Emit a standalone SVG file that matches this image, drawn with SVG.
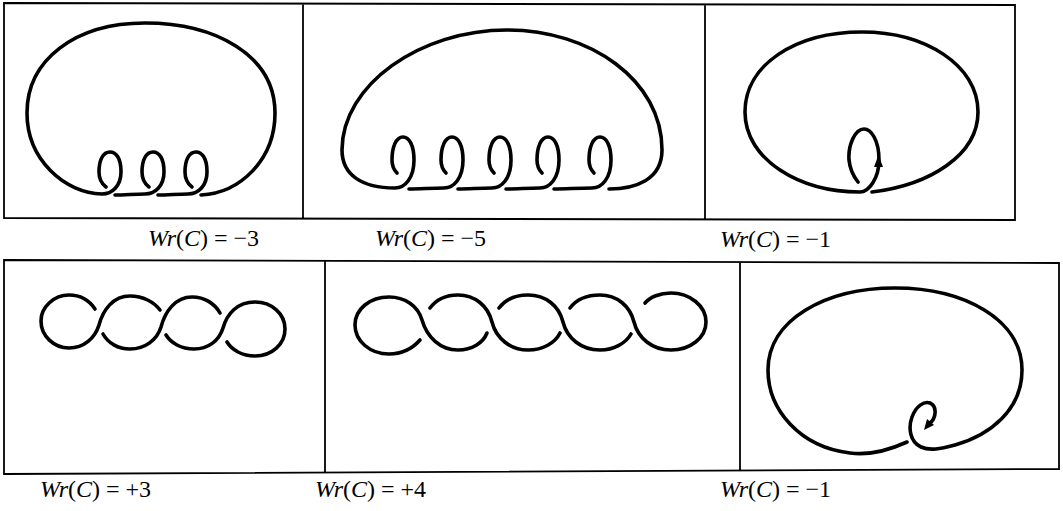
<svg xmlns="http://www.w3.org/2000/svg" width="1063" height="511" viewBox="0 0 1063 511">
<style>
.frame{fill:none;stroke:#000;stroke-width:1.8}
.curve{fill:none;stroke:#000;stroke-width:3.6;stroke-linecap:round;stroke-linejoin:round}
.lbl{font-family:"Liberation Serif","Times New Roman",serif;font-size:24px;fill:#000}
.it{font-style:italic}
</style>
<rect width="1063" height="511" fill="#fff"/>
<g id="frames">
<path class="frame" d="M4,3 L1015,5 L1015,220 L4,218 Z M303,3.6 L303,218.6 M705,4.4 L705,219.4"/>
<path class="frame" d="M4,260 L1059,263 L1059,469 L4,474 Z M325,260.6 L325,473 M740,261.8 L740,471"/>
</g>
<g id="panel-wr-minus3">
<path class="curve" d="M201,195 C240,193 275,160 275,113 C275,55 215,23 145,23 C75,23 27,60 27,113 C27,160 65,193 102,194 C112,194 121,186 121,172 C121,158 116,152 110,152 C103,152 99,160 99,172 C99,179 102,184 106,187"/>
<path class="curve" d="M115,195 C125,195 135,194 145,194 C155,194 164,186 164,172 C164,158 159,152 153,152 C146,152 142,160 142,172 C142,179 145,184 149,187"/>
<path class="curve" d="M158,195 C168,195 178,194 188,194 C198,194 207,186 207,172 C207,158 202,152 196,152 C189,152 185,160 185,172 C185,179 188,184 192,187"/>
</g>
<g id="panel-wr-minus5">
<path class="curve" d="M609,189 C635,189 662,180 662,150 C662,80 590,30 507,30 C420,30 342,85 342,150 C342,175 362,188 395,188 C405,188 414,178 414,160 C414,145 409,137 403,137 C396,137 392,147 392,160 C392,166 394,170 397,173"/>
<path class="curve" d="M409,189 C420,189 432,188 444,188 C454,188 463,178 463,160 C463,145 458,137 452,137 C445,137 441,147 441,160 C441,166 443,170 446,173"/>
<path class="curve" d="M458,189 C469,189 480,188 492,188 C502,188 511,178 511,160 C511,145 506,137 500,137 C493,137 489,147 489,160 C489,166 491,170 494,173"/>
<path class="curve" d="M506,189 C517,189 528,188 540,188 C550,188 559,178 559,160 C559,145 554,137 548,137 C541,137 537,147 537,160 C537,166 539,170 542,173"/>
<path class="curve" d="M554,189 C566,189 578,188 592,188 C602,188 611,178 611,160 C611,145 606,137 600,137 C593,137 589,147 589,160 C589,166 591,170 594,173"/>
</g>
<g id="panel-wr-minus1-top">
<path class="curve" d="M872,192 C930,185 978,155 978,112 C978,65 925,32 862,32 C795,32 745,65 745,112 C745,160 800,192 860,192 C869,192 879,178 879,160 C879,140 871,129 864,129 C855,129 848,145 849,160 C850,170 854,177 858,182"/>
<path d="M878.5,155 L883,167 L874,167 Z" fill="#000"/>
</g>
<g id="panel-wr-plus3">
<path class="curve" d="M95,309 C89,300 80,295 69,295 C54,295 41,307 41,321 C41,336 54,348 69,348 C84,348 95,338 99,325 C103,310 113,296 130,296 C143,296 154,302 160,310"/>
<path class="curve" d="M103,334 C108,343 118,349 130,349 C145,349 157,340 161,327 C165,312 175,297 192,297 C205,297 215,304 220,313"/>
<path class="curve" d="M166,335 C171,343 181,349 194,349 C208,349 219,341 223,328 C227,314 237,302 255,302 C272,302 285,314 285,329 C285,344 272,356 255,356 C242,356 232,350 227,342"/>
</g>
<g id="panel-wr-plus4">
<path class="curve" d="M420,340 C412,349 402,354 389,354 C370,354 355,341 355,325 C355,309 370,297 389,297 C405,297 418,306 422,320 C427,337 440,350 458,350 C472,350 483,343 487,333"/>
<path class="curve" d="M430,308 C436,300 446,295 458,295 C475,295 488,306 492,322 C496,338 510,350 528,350 C543,350 555,343 560,333"/>
<path class="curve" d="M499,308 C505,300 515,295 528,295 C546,295 559,306 563,322 C567,338 581,350 600,350 C614,350 626,343 631,334"/>
<path class="curve" d="M570,308 C576,300 586,295 600,295 C617,295 630,306 634,322 C638,338 652,350 671,350 C690,350 706,338 706,322 C706,306 690,293 671,293 C660,293 650,297 645,303"/>
</g>
<g id="panel-wr-minus1-bottom">
<path class="curve" d="M907,442 C885,452 865,455 850,453 C800,447 768,410 768,370 C768,320 825,288 895,288 C965,288 1022,320 1022,370 C1022,410 990,435 955,445 C940,449 930,451 921,447 C910,442 908,428 912,417 C916,406 924,401 930,403 C937,406 937,418 929,424"/>
<path d="M924,430 L927,419 L934,425 Z" fill="#000"/>
</g>
<g id="labels">
<text class="lbl" x="148" y="246"><tspan class="it">Wr</tspan>(<tspan class="it">C</tspan>) = −3</text>
<text class="lbl" x="375" y="246"><tspan class="it">Wr</tspan>(<tspan class="it">C</tspan>) = −5</text>
<text class="lbl" x="720" y="247"><tspan class="it">Wr</tspan>(<tspan class="it">C</tspan>) = −1</text>
<text class="lbl" x="40" y="497"><tspan class="it">Wr</tspan>(<tspan class="it">C</tspan>) = +3</text>
<text class="lbl" x="315" y="497"><tspan class="it">Wr</tspan>(<tspan class="it">C</tspan>) = +4</text>
<text class="lbl" x="720" y="497"><tspan class="it">Wr</tspan>(<tspan class="it">C</tspan>) = −1</text>
</g>
</svg>
